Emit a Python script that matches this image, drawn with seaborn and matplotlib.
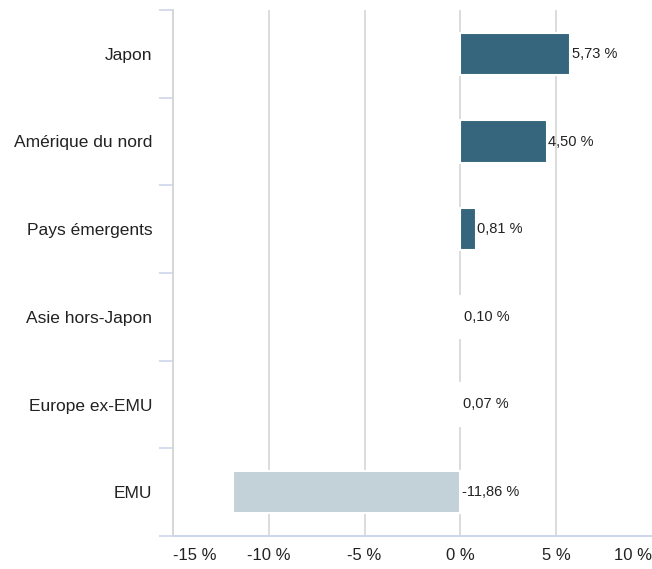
import matplotlib
matplotlib.use("Agg")
import matplotlib.pyplot as plt
import seaborn as sns
import pandas as pd

categories = ["Japon", "Amérique du nord", "Pays émergents", "Asie hors-Japon", "Europe ex-EMU", "EMU"]
values = [5.73, 4.50, 0.81, 0.10, 0.07, -11.86]
xticks = [-15, -10, -5, 0, 5, 10]
xtick_labels = ["-15 %", "-10 %", "-5 %", "0 %", "5 %", "10 %"]

sns.set_theme(style="white")
plt.rcParams["font.family"] = ["Liberation Sans", "DejaVu Sans"]

df = pd.DataFrame({"region": categories, "perf": values})
df["sign"] = ["neg" if v < 0 else "pos" for v in values]

fig = plt.figure(figsize=(6.52, 5.69), dpi=100)
ax = fig.add_axes([173 / 652, 1 - 536 / 569, 1 - 173 / 652, (536 - 10) / 569])

sns.barplot(data=df, y="region", x="perf", hue="sign", order=categories,
            palette={"pos": "#35667d", "neg": "#c3d1d8"}, width=0.48, saturation=1,
            edgecolor="white", linewidth=1.5, legend=False, ax=ax, zorder=3)

ax.set_xlim(-15, 10)
ax.set_ylim(len(categories) - 0.5, -0.5)

for x in xticks[1:-1]:
    ax.axvline(x, color="#dcdcdc", lw=1.4, zorder=1)

for i, v in enumerate(values):
    ax.text(max(v, 0) + 0.08, i, f"{v:.2f}".replace(".", ",") + " %",
            ha="left", va="center", fontsize=10.5, color="#222222", zorder=4)

ax.set_xticks(xticks)
ax.set_xticklabels(xtick_labels, fontsize=12, color="#222222")
lbls = ax.get_xticklabels()
lbls[0].set_ha("left")
lbls[-1].set_ha("right")
ax.tick_params(axis="x", length=0, pad=9)

ax.set_yticks(range(len(categories)))
ax.set_yticklabels(categories, fontsize=12.5, color="#222222")
ax.tick_params(axis="y", which="major", left=False, length=0, pad=15)
ax.set_yticks([i - 0.5 for i in range(len(categories) + 1)], minor=True)
ax.tick_params(axis="y", which="minor", left=True, length=10, width=1.2,
               color="#ccd6eb", direction="out")

ax.set_xlabel("")
ax.set_ylabel("")
for s in ["top", "right"]:
    ax.spines[s].set_visible(False)
ax.spines["left"].set_color("#d6d6d6")
ax.spines["left"].set_linewidth(1.4)
ax.spines["bottom"].set_color("#ccd6eb")
ax.spines["bottom"].set_linewidth(1.4)

fig.savefig("out.png", dpi=100)
